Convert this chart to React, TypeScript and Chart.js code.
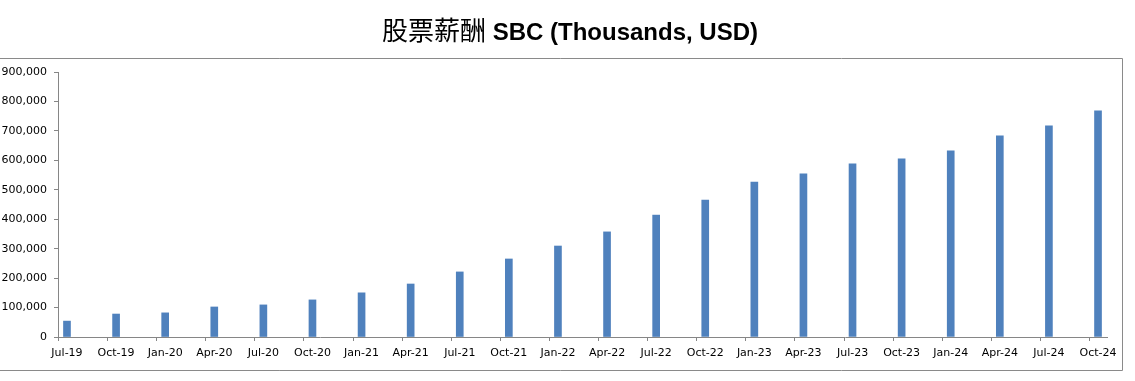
import React, { useEffect, useRef } from "react";
import { Chart, registerables } from "chart.js";

Chart.register(...registerables);

const categories: string[] = [
  "Jul-19", "Oct-19", "Jan-20", "Apr-20", "Jul-20", "Oct-20", "Jan-21", "Apr-21",
  "Jul-21", "Oct-21", "Jan-22", "Apr-22", "Jul-22", "Oct-22", "Jan-23", "Apr-23",
  "Jul-23", "Oct-23", "Jan-24", "Apr-24", "Jul-24", "Oct-24",
];

const sbcValues: number[] = [
  54000, 78000, 82000, 102000, 109000, 126000, 150000, 180000,
  221000, 265000, 309000, 357000, 414000, 465000, 526000, 554000,
  588000, 605000, 632000, 683000, 717000, 768000,
];

const titleZh = "股票薪酬";
const titleEn = " SBC (Thousands, USD)";

const yMax = 900000;
const yStep = 100000;

const BAR_COLOR = "#4F81BD";
const AXIS_COLOR = "#868686";
const TEXT_COLOR = "#000000";
const TICK_SHIFT = 0.183;

const framePlugin = {
  id: "frame",
  beforeDraw(chart: any) {
    const ctx = chart.ctx;
    ctx.save();
    ctx.strokeStyle = "#8a8a8a";
    ctx.lineWidth = 1;
    ctx.beginPath();
    ctx.moveTo(-1, 58.5);
    ctx.lineTo(1122.5, 58.5);
    ctx.lineTo(1122.5, 370.5);
    ctx.lineTo(-1, 370.5);
    ctx.stroke();
    ctx.restore();
  },
};

const xTickPlugin = {
  id: "xTickMarks",
  afterDatasetsDraw(chart: any) {
    const ctx = chart.ctx;
    const xs = chart.scales.x;
    const bottom = chart.chartArea.bottom;
    ctx.save();
    ctx.strokeStyle = AXIS_COLOR;
    ctx.lineWidth = 1;
    ctx.beginPath();
    categories.forEach((_, i) => {
      const px = Math.round(xs.getPixelForValue(i - TICK_SHIFT)) + 0.5;
      ctx.moveTo(px, bottom);
      ctx.lineTo(px, bottom + 4);
    });
    ctx.stroke();
    ctx.restore();
  },
};

const titlePlugin = {
  id: "mixedTitle",
  afterDraw(chart: any) {
    const ctx = chart.ctx;
    ctx.save();
    ctx.fillStyle = "#000";
    ctx.textBaseline = "alphabetic";
    const zhFont = 'normal 26px "Noto Sans CJK SC"';
    const enFont = 'bold 24px "Liberation Sans"';
    ctx.font = zhFont;
    const w1 = ctx.measureText(titleZh).width;
    ctx.font = enFont;
    const w2 = ctx.measureText(titleEn).width;
    const center = 570;
    let x = center - (w1 + w2) / 2;
    const baseline = 40;
    ctx.font = zhFont;
    ctx.fillText(titleZh, x, baseline);
    x += w1;
    ctx.font = enFont;
    ctx.fillText(titleEn, x, baseline);
    ctx.restore();
  },
};

export default function App() {
  const canvasRef = useRef<HTMLCanvasElement | null>(null);

  useEffect(() => {
    if (!canvasRef.current) return;
    const data = categories.map((_, i) => ({ x: i, y: sbcValues[i] }));
    const chart = new Chart(canvasRef.current, {
      type: "bar",
      data: {
        datasets: [
          {
            label: "SBC",
            data: data as any,
            backgroundColor: BAR_COLOR,
            borderWidth: 0,
            barThickness: 7,
          },
        ],
      },
      options: {
        animation: false,
        responsive: false,
        maintainAspectRatio: false,
        layout: { padding: { top: 72, left: 0, right: 28, bottom: 0 } },
        plugins: {
          legend: { display: false },
          title: { display: false },
          tooltip: { enabled: false },
        },
        scales: {
          x: {
            type: "linear",
            min: -TICK_SHIFT,
            max: categories.length - 1 + TICK_SHIFT,
            offset: false,
            afterBuildTicks: (scale: any) => {
              scale.ticks = categories.map((_, i) => ({ value: i }));
            },
            afterFit: (scale: any) => {
              scale.height = 44;
            },
            ticks: {
              autoSkip: false,
              maxRotation: 0,
              minRotation: 0,
              padding: 10,
              color: TEXT_COLOR,
              font: { family: "DejaVu Sans", size: 11 },
              callback: (v: any) => categories[Math.round(Number(v))] ?? "",
            },
            grid: { display: false, drawTicks: false },
            border: { display: true, color: AXIS_COLOR, width: 1 },
          },
          y: {
            min: 0,
            max: yMax,
            afterFit: (scale: any) => {
              scale.width = 58;
            },
            ticks: {
              stepSize: yStep,
              padding: 7,
              color: TEXT_COLOR,
              font: { family: "DejaVu Sans", size: 11 },
              callback: (v: any) => Number(v).toLocaleString("en-US"),
            },
            grid: {
              drawOnChartArea: false,
              drawTicks: true,
              tickLength: 4,
              color: AXIS_COLOR,
            },
            border: { display: true, color: AXIS_COLOR, width: 1 },
          },
        },
      },
      plugins: [framePlugin, xTickPlugin, titlePlugin],
    });
    return () => chart.destroy();
  }, []);

  return (
    <div style={{ position: "fixed", left: 0, top: 0, width: 1135, height: 381, background: "#fff" }}>
      <canvas ref={canvasRef} width={1135} height={381} style={{ display: "block" }} />
    </div>
  );
}
